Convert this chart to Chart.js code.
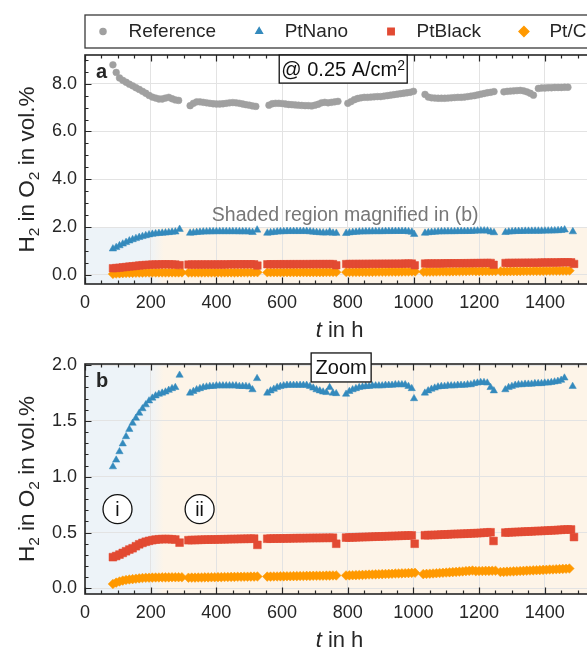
<!DOCTYPE html>
<html>
<head>
<meta charset="utf-8">
<script src="https://cdn.jsdelivr.net/npm/chart.js@4.4.1/dist/chart.umd.min.js"></script>
<style>
  html, body { margin: 0; padding: 0; overflow: hidden; background: #fff; }
  #wrap { position: relative; width: 600px; height: 648px; }
  canvas { position: absolute; left: 0; }
  #overview { top: 0; }
  #zoom { top: 340px; }
</style>
</head>
<body>
<div id="wrap">
  <canvas id="overview" width="600" height="340"></canvas>
  <canvas id="zoom" width="600" height="308"></canvas>
</div>
<script>
// Logged every 10 h; each run starts at the hour given in *Starts
const STEP_H = 10;

// Reference cell, H2 in O2 (vol.%)
const refStarts = [85, 320, 560, 800, 1035, 1275, 1380];
const refRuns = [
  [8.79, 8.47, 8.24, 8.14, 8.06, 7.98, 7.91, 7.83, 7.76, 7.68, 7.60, 7.51, 7.44, 7.40, 7.36, 7.36, 7.40, 7.43, 7.37, 7.32, 7.30],
  [7.08, 7.18, 7.24, 7.24, 7.22, 7.20, 7.18, 7.16, 7.15, 7.15, 7.16, 7.18, 7.20, 7.21, 7.20, 7.18, 7.15, 7.12, 7.10, 7.07, 7.05],
  [7.10, 7.16, 7.18, 7.18, 7.17, 7.15, 7.13, 7.12, 7.11, 7.10, 7.09, 7.08, 7.08, 7.07, 7.10, 7.14, 7.20, 7.22, 7.20, 7.22, 7.24, 7.26],
  [7.18, 7.25, 7.33, 7.38, 7.41, 7.43, 7.43, 7.44, 7.45, 7.46, 7.46, 7.48, 7.50, 7.52, 7.54, 7.56, 7.58, 7.60, 7.62, 7.64, 7.68],
  [7.55, 7.44, 7.41, 7.40, 7.39, 7.39, 7.39, 7.40, 7.41, 7.42, 7.43, 7.43, 7.44, 7.46, 7.48, 7.50, 7.53, 7.56, 7.59, 7.62, 7.64, 7.67],
  [7.66, 7.68, 7.69, 7.70, 7.71, 7.72, 7.70, 7.66, 7.60, 7.52],
  [7.80, 7.82, 7.82, 7.83, 7.83, 7.84, 7.84, 7.84, 7.85, 7.85]
];

// PtNano
const nanoStarts = [85, 320, 555, 795, 1035, 1280];
const nanoRuns = [
  [1.09, 1.15, 1.225, 1.295, 1.36, 1.425, 1.48, 1.525, 1.57, 1.61, 1.645, 1.68, 1.705, 1.725, 1.74, 1.75, 1.76, 1.775, 1.79, 1.80],
  [1.75, 1.765, 1.78, 1.79, 1.80, 1.805, 1.81, 1.81, 1.815, 1.815, 1.815, 1.815, 1.815, 1.815, 1.815, 1.81, 1.81, 1.81, 1.805, 1.78],
  [1.75, 1.77, 1.785, 1.80, 1.81, 1.815, 1.82, 1.82, 1.82, 1.82, 1.82, 1.82, 1.82, 1.81, 1.795, 1.78, 1.77, 1.76, 1.755, 1.80, 1.75, 1.745],
  [1.74, 1.765, 1.78, 1.79, 1.80, 1.805, 1.81, 1.81, 1.815, 1.815, 1.815, 1.815, 1.82, 1.82, 1.82, 1.825, 1.825, 1.825, 1.825, 1.81, 1.79],
  [1.75, 1.77, 1.785, 1.795, 1.805, 1.81, 1.81, 1.815, 1.815, 1.815, 1.82, 1.82, 1.82, 1.825, 1.825, 1.835, 1.84, 1.845, 1.845, 1.84, 1.80, 1.77],
  [1.78, 1.80, 1.81, 1.82, 1.825, 1.825, 1.83, 1.83, 1.83, 1.835, 1.835, 1.835, 1.84, 1.84, 1.845, 1.85, 1.855, 1.865, 1.885]
];
const nanoSpikeH = [288, 524, 1002, 1485];
const nanoSpikeV = [1.91, 1.88, 1.70, 1.81];

// PtBlack
const blackStarts = [85, 315, 555, 795, 1035, 1280];
const blackRuns = [
  [0.28, 0.29, 0.303, 0.318, 0.333, 0.348, 0.36, 0.378, 0.395, 0.408, 0.418, 0.426, 0.432, 0.437, 0.44, 0.442, 0.442, 0.442, 0.44, 0.438],
  [0.432, 0.433, 0.434, 0.435, 0.436, 0.437, 0.437, 0.438, 0.438, 0.439, 0.44, 0.44, 0.441, 0.442, 0.442, 0.443, 0.444, 0.444, 0.445, 0.445, 0.446],
  [0.445, 0.446, 0.446, 0.447, 0.447, 0.448, 0.448, 0.449, 0.449, 0.45, 0.45, 0.45, 0.451, 0.451, 0.452, 0.452, 0.452, 0.453, 0.453, 0.453, 0.454],
  [0.455, 0.456, 0.457, 0.458, 0.459, 0.46, 0.461, 0.462, 0.463, 0.464, 0.465, 0.466, 0.467, 0.468, 0.469, 0.47, 0.471, 0.472, 0.473, 0.474, 0.475],
  [0.476, 0.477, 0.478, 0.479, 0.48, 0.482, 0.483, 0.484, 0.486, 0.487, 0.488, 0.489, 0.49, 0.491, 0.493, 0.494, 0.495, 0.497, 0.499, 0.501, 0.503],
  [0.50, 0.502, 0.503, 0.505, 0.506, 0.507, 0.509, 0.51, 0.511, 0.513, 0.514, 0.515, 0.517, 0.518, 0.52, 0.521, 0.523, 0.525, 0.527, 0.528, 0.528]
];
const blackSpikeH = [288, 525, 765, 1004, 1244, 1489];
const blackSpikeV = [0.41, 0.39, 0.40, 0.40, 0.425, 0.46];

// Pt/C
const ptcStarts = [85, 315, 555, 795, 1030, 1190, 1265];
const ptcRuns = [
  [0.04, 0.052, 0.062, 0.07, 0.076, 0.08, 0.083, 0.087, 0.09, 0.093, 0.095, 0.096, 0.097, 0.098, 0.098, 0.099, 0.099, 0.099, 0.10, 0.10, 0.10, 0.10],
  [0.096, 0.097, 0.097, 0.098, 0.098, 0.099, 0.099, 0.10, 0.10, 0.101, 0.101, 0.102, 0.102, 0.103, 0.103, 0.104, 0.104, 0.105, 0.105, 0.106, 0.106, 0.107],
  [0.106, 0.106, 0.107, 0.107, 0.108, 0.108, 0.109, 0.109, 0.11, 0.11, 0.111, 0.111, 0.112, 0.112, 0.113, 0.113, 0.114, 0.114, 0.115, 0.115, 0.116, 0.116],
  [0.116, 0.117, 0.118, 0.119, 0.12, 0.121, 0.123, 0.124, 0.125, 0.126, 0.127, 0.128, 0.129, 0.13, 0.131, 0.133, 0.134, 0.135, 0.136, 0.137, 0.139, 0.14],
  [0.128, 0.13, 0.132, 0.134, 0.136, 0.138, 0.14, 0.142, 0.144, 0.146, 0.148, 0.15, 0.152, 0.155, 0.157, 0.16],
  [0.155, 0.156, 0.156, 0.157, 0.157, 0.158, 0.158],
  [0.147, 0.148, 0.15, 0.151, 0.153, 0.154, 0.156, 0.157, 0.159, 0.16, 0.162, 0.163, 0.164, 0.166, 0.167, 0.169, 0.17, 0.172, 0.173, 0.175, 0.176, 0.178]
];

// Axes
const X_MAX = 1550;
const xTicks = [0, 200, 400, 600, 800, 1000, 1200, 1400];
const yTicksAll = [0, 2, 4, 6, 8];
const yTicksZoom = [0, 0.5, 1, 1.5, 2];

const FONT = '"Liberation Sans", Arial, Helvetica, sans-serif';
const INK = '#262626';
const GRID = '#e3e3e3';
const COL = { ref: '#a0a0a0', nano: '#348abd', black: '#e24a33', ptc: '#ff9900' };
const SHADE_I = '#edf3f8';
const SHADE_II = '#fdf4e8';

function toPoints(starts, runs, spikeH, spikeV) {
  const pts = [];
  runs.forEach((run, r) => {
    run.forEach((v, i) => pts.push({ x: starts[r] + i * STEP_H, y: v }));
  });
  (spikeH || []).forEach((h, i) => pts.push({ x: h, y: spikeV[i] }));
  return pts;
}

const refPts = toPoints(refStarts, refRuns);
const nanoPts = toPoints(nanoStarts, nanoRuns, nanoSpikeH, nanoSpikeV);
const blackPts = toPoints(blackStarts, blackRuns, blackSpikeH, blackSpikeV);
const ptcPts = toPoints(ptcStarts, ptcRuns);

function series(label, pts, color, style, radius) {
  return {
    label, data: pts.slice(), pointStyle: style,
    backgroundColor: color, borderColor: color,
    pointRadius: radius, pointBorderWidth: 0.5, pointHoverRadius: radius
  };
}

// small helper: draws a row of text runs (size / style / vertical shift), returns width
function richText(ctx, runs, x, y, align) {
  let w = 0;
  runs.forEach(r => {
    ctx.font = `${r.style || ''} ${r.size}px ${FONT}`;
    w += ctx.measureText(r.t).width;
  });
  let cx = align === 'center' ? x - w / 2 : x;
  runs.forEach(r => {
    ctx.font = `${r.style || ''} ${r.size}px ${FONT}`;
    ctx.fillText(r.t, cx, y + (r.dy || 0));
    cx += ctx.measureText(r.t).width;
  });
  return w;
}

function marker(ctx, style, r, x, y) {
  if (Chart.helpers && Chart.helpers.drawPoint) {
    Chart.helpers.drawPoint(ctx, { pointStyle: style, radius: r, borderWidth: 0.5, rotation: 0 }, x, y);
    return;
  }
  ctx.beginPath();
  ctx.arc(x, y, r, 0, Math.PI * 2);
  ctx.fill();
}

function minorValues(min, max, step) {
  const out = [];
  for (let k = Math.ceil(min / step - 1e-9); k * step <= max + 1e-9; k++) out.push(k * step);
  return out;
}

const Y_TITLE = [
  { t: 'H', size: 22.5 }, { t: '2', size: 15.5, dy: 5 },
  { t: ' in O', size: 22.5 }, { t: '2', size: 15.5, dy: 5 },
  { t: ' in vol.%', size: 22.5 }
];
const X_TITLE = [{ t: 't', size: 22, style: 'italic' }, { t: ' in h', size: 22 }];

// background shading, frame with inward ticks, axis titles
function decor(panel) {
  return {
    id: 'decor',
    beforeDraw(chart) {
      const { ctx, chartArea: a, scales: { x, y } } = chart;
      const top = panel.shadeTop == null ? a.top : y.getPixelForValue(panel.shadeTop);
      const g = ctx.createLinearGradient(x.getPixelForValue(195), 0, x.getPixelForValue(240), 0);
      g.addColorStop(0, SHADE_I);
      g.addColorStop(1, SHADE_II);
      ctx.save();
      ctx.fillStyle = g;
      ctx.fillRect(a.left, top, a.right - a.left, a.bottom - top);
      ctx.restore();
    },
    afterDatasetsDraw(chart) {
      const { ctx, chartArea: a, scales: { x, y } } = chart;
      ctx.save();
      ctx.strokeStyle = INK;
      ctx.lineWidth = 1.2;
      ctx.beginPath();
      const tickX = (v, len) => {
        const px = Math.round(x.getPixelForValue(v)) + 0.5;
        ctx.moveTo(px, a.bottom); ctx.lineTo(px, a.bottom - len);
        ctx.moveTo(px, a.top); ctx.lineTo(px, a.top + len);
      };
      const tickY = (v, len) => {
        const py = Math.round(y.getPixelForValue(v)) + 0.5;
        ctx.moveTo(a.left, py); ctx.lineTo(a.left + len, py);
      };
      minorValues(0, X_MAX, 50).forEach(v => tickX(v, 3.5));
      xTicks.forEach(v => tickX(v, 6.5));
      minorValues(y.min, y.max, panel.yMinor).forEach(v => tickY(v, 3.5));
      panel.yTicks.forEach(v => tickY(v, 6.5));
      ctx.stroke();
      ctx.lineWidth = 1.6;
      ctx.strokeRect(a.left, a.top, a.right - a.left, a.bottom - a.top);

      // axis titles
      ctx.fillStyle = INK;
      ctx.textBaseline = 'alphabetic';
      richText(ctx, X_TITLE, (a.left + a.right) / 2, a.bottom + 52.5, 'center');
      ctx.translate(25.5, (a.top + a.bottom) / 2);
      ctx.rotate(-Math.PI / 2);
      richText(ctx, Y_TITLE, 0, 8, 'center');
      ctx.restore();
    },
    afterDraw(chart) {
      panel.notes(chart);
    }
  };
}

function boxedText(ctx, runs, cx, cy, w, h) {
  ctx.save();
  ctx.fillStyle = '#fff';
  ctx.strokeStyle = '#111';
  ctx.lineWidth = 1.3;
  ctx.fillRect(cx - w / 2, cy - h / 2, w, h);
  ctx.strokeRect(cx - w / 2, cy - h / 2, w, h);
  ctx.fillStyle = '#111';
  ctx.textBaseline = 'alphabetic';
  richText(ctx, runs, cx, cy + 7, 'center');
  ctx.restore();
}

function circled(ctx, text, cx, cy) {
  ctx.save();
  ctx.beginPath();
  ctx.arc(cx, cy, 14.5, 0, Math.PI * 2);
  ctx.fillStyle = '#fff';
  ctx.fill();
  ctx.strokeStyle = '#111';
  ctx.lineWidth = 1.3;
  ctx.stroke();
  ctx.fillStyle = '#111';
  ctx.font = `19.5px ${FONT}`;
  ctx.textAlign = 'center';
  ctx.textBaseline = 'middle';
  ctx.fillText(text, cx, cy + 1);
  ctx.restore();
}

function panelLetter(ctx, a, letter) {
  ctx.save();
  ctx.fillStyle = INK;
  ctx.font = `bold 20px ${FONT}`;
  ctx.textBaseline = 'alphabetic';
  ctx.fillText(letter, a.left + 11, a.top + 22.5);
  ctx.restore();
}

// legend row in a frame above the overview panel
const legendBox = {
  id: 'legendBox',
  afterDraw(chart) {
    const { ctx, chartArea: a } = chart;
    ctx.save();
    ctx.strokeStyle = '#3a3a3a';
    ctx.lineWidth = 1.3;
    ctx.strokeRect(a.left, 15, chart.width - a.left + 20, 33);
    ctx.font = `19px ${FONT}`;
    ctx.textBaseline = 'middle';
    let x = a.left + 18;
    chart.data.datasets.forEach(ds => {
      ctx.fillStyle = ds.backgroundColor;
      ctx.strokeStyle = ds.backgroundColor;
      marker(ctx, ds.pointStyle, ds.legendRadius, x, 31.5);
      ctx.fillStyle = INK;
      ctx.fillText(ds.label, x + 25.5, 31.5);
      x += 25.5 + ctx.measureText(ds.label).width + 43;
    });
    ctx.restore();
  }
};

function panelConfig(panel, datasets, extraPlugins) {
  return {
    type: 'scatter',
    data: { datasets },
    options: {
      responsive: false,
      animation: false,
      devicePixelRatio: 1,
      events: [],
      layout: { padding: { left: 0, right: 4, top: panel.padTop, bottom: 0 } },
      plugins: { legend: { display: false }, tooltip: { enabled: false } },
      scales: {
        x: {
          type: 'linear', min: 0, max: X_MAX,
          afterFit: s => { s.height = panel.xAxisH; },
          afterBuildTicks: s => { s.ticks = xTicks.map(v => ({ value: v })); },
          grid: { color: GRID, lineWidth: 1, drawTicks: false },
          border: { display: false },
          ticks: {
            padding: 8, color: INK, autoSkip: false, maxRotation: 0,
            font: { family: FONT, size: 18 },
            callback: v => String(v)
          }
        },
        y: {
          type: 'linear', min: panel.yMin, max: panel.yMax,
          afterFit: s => { s.width = 85; },
          afterBuildTicks: s => { s.ticks = panel.yTicks.map(v => ({ value: v })); },
          grid: { color: GRID, lineWidth: 1, drawTicks: false },
          border: { display: false },
          ticks: {
            padding: 8, color: INK, autoSkip: false,
            font: { family: FONT, size: 18 },
            callback: v => Number(v).toFixed(1)
          }
        }
      }
    },
    plugins: [decor(panel)].concat(extraPlugins || [])
  };
}

// (a) full range
const overview = {
  yMin: -0.38, yMax: 9.2, yTicks: yTicksAll, yMinor: 0.5,
  padTop: 55, xAxisH: 56, shadeTop: 2.0,
  notes(chart) {
    const { ctx, chartArea: a, scales: { x, y } } = chart;
    panelLetter(ctx, a, 'a');
    boxedText(ctx, [{ t: '@ 0.25 A/cm', size: 20 }, { t: '2', size: 14, dy: -6 }],
      x.getPixelForValue(786), y.getPixelForValue(8.61), 128, 28);
    ctx.save();
    ctx.fillStyle = '#777';
    ctx.font = `19.5px ${FONT}`;
    ctx.textAlign = 'center';
    ctx.textBaseline = 'middle';
    ctx.fillText('Shaded region magnified in (b)', x.getPixelForValue(792), y.getPixelForValue(2.46));
    ctx.restore();
  }
};

// (b) magnified 0-2 vol.%
const zoomPanel = {
  yMin: -0.05, yMax: 2.01, yTicks: yTicksZoom, yMinor: 0.1,
  padTop: 24, xAxisH: 54, shadeTop: null,
  notes(chart) {
    const { ctx, chartArea: a, scales: { x, y } } = chart;
    panelLetter(ctx, a, 'b');
    boxedText(ctx, [{ t: 'Zoom', size: 20 }], x.getPixelForValue(780), y.getPixelForValue(1.979), 60, 29);
    circled(ctx, 'i', x.getPixelForValue(99), y.getPixelForValue(0.71));
    circled(ctx, 'ii', x.getPixelForValue(349), y.getPixelForValue(0.71));
  }
};

const topSets = [
  series('Reference', refPts, COL.ref, 'circle', 3.4),
  series('PtNano', nanoPts, COL.nano, 'triangle', 4.3),
  series('PtBlack', blackPts, COL.black, 'rect', 5.3),
  series('Pt/C', ptcPts, COL.ptc, 'rectRot', 4.7)
];
[3.1, 3.9, 4.6, 5.0].forEach((r, i) => { topSets[i].legendRadius = r; });

const zoomSets = [
  series('PtNano', nanoPts, COL.nano, 'triangle', 4.2),
  series('PtBlack', blackPts, COL.black, 'rect', 5.5),
  series('Pt/C', ptcPts, COL.ptc, 'rectRot', 4.8)
];

new Chart(document.getElementById('overview'), panelConfig(overview, topSets, [legendBox]));
new Chart(document.getElementById('zoom'), panelConfig(zoomPanel, zoomSets));
</script>
</body>
</html>
